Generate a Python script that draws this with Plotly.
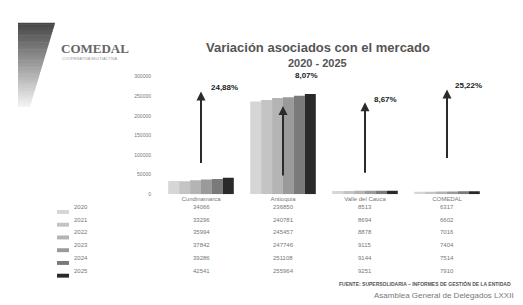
import plotly.graph_objects as go

W, H = 523, 305

categories = ["Cundinamarca", "Antioquia", "Valle del Cauca", "COMEDAL"]
years = ["2020", "2021", "2022", "2023", "2024", "2025"]
values = {
    "2020": [34066, 236850, 8513, 6317],
    "2021": [33296, 240781, 8694, 6602],
    "2022": [35994, 245457, 8878, 7016],
    "2023": [37842, 247746, 9115, 7404],
    "2024": [39286, 251108, 9144, 7514],
    "2025": [42541, 255964, 9251, 7910],
}
y_ticks = [0, 50000, 100000, 150000, 200000, 250000, 300000]
colors = ["#d6d6d6", "#c4c4c4", "#b4b4b4", "#9a9a9a", "#7a7a7a", "#2a2a2a"]

def px(x):
    return x / W

def py(y):
    return 1 - y / H

fig = go.Figure()
for yr, c in zip(years, colors):
    fig.add_trace(go.Bar(x=categories, y=values[yr], name=yr, marker_color=c,
                         marker_line_width=0))

annotations = []
shapes = []

# percentage arrows
arrow_top = [82, 97, 93, 80]
arrow_bot = [155, 168, 165, 150]
label_dx = [8, 10, 7, 6]
label_y = [78, 66, 90, 76]
for i, cat in enumerate(categories):
    pct = (values["2025"][i] / values["2020"][i] - 1) * 100
    txt = f"{pct:.2f}%".replace(".", ",")
    annotations.append(dict(x=cat, xref="x", y=py(arrow_top[i]), yref="paper",
                            ax=0, ay=arrow_bot[i] - arrow_top[i], text="",
                            showarrow=True, arrowhead=2, arrowsize=0.9,
                            arrowwidth=2, arrowcolor="#2b2b2b"))
    annotations.append(dict(x=cat, xref="x", y=py(label_y[i]), yref="paper",
                            xshift=label_dx[i], text=f"<b>{txt}</b>",
                            showarrow=False, xanchor="left", yanchor="middle",
                            font=dict(size=8, color="#222")))

# data table
row_y = [205, 218, 231, 244, 257, 270]
for r, (yr, c) in enumerate(zip(years, colors)):
    shapes.append(dict(type="rect", xref="paper", yref="paper",
                       x0=px(49), x1=px(61), y0=py(row_y[r] + 2), y1=py(row_y[r] - 2),
                       fillcolor=c, line_width=0))
    annotations.append(dict(x=px(64), xref="paper", y=py(row_y[r]), yref="paper",
                            text=yr, showarrow=False, xanchor="left",
                            font=dict(size=6, color="#777")))
    for i, cat in enumerate(categories):
        annotations.append(dict(x=cat, xref="x", y=py(row_y[r]), yref="paper",
                                text=str(values[yr][i]), showarrow=False,
                                font=dict(size=6, color="#777")))

# title
annotations.append(dict(x=px(310), y=py(28), xref="paper", yref="paper",
                        text="<b>Variación asociados con el mercado</b>",
                        showarrow=False, font=dict(size=13, color="#555",
                        family="Liberation Sans")))
annotations.append(dict(x=px(309), y=py(45), xref="paper", yref="paper",
                        text="<b>2020 - 2025</b>", showarrow=False,
                        font=dict(size=11, color="#555", family="Liberation Sans")))

# logo
n = 60
for k in range(n):
    t0, t1 = k / n, (k + 1) / n
    y0, y1 = 12 + t0 * 85, 12 + t1 * 85 + 0.6
    xr0, xr1 = 47 - t0 * 25, 47 - t1 * 25
    g = int(70 + 175 * t0)
    shapes.append(dict(type="path", xref="paper", yref="paper",
                       path=f"M {px(10)} {py(y0)} L {px(xr0)} {py(y0)} L {px(xr1)} {py(y1)} L {px(10)} {py(y1)} Z",
                       fillcolor=f"rgb({g},{g},{g})", line_width=0))
annotations.append(dict(x=px(51), y=py(29), xref="paper", yref="paper",
                        text="<b>COMEDAL</b>", showarrow=False, xanchor="left",
                        font=dict(size=13, color="#666", family="Liberation Serif")))
annotations.append(dict(x=px(52), y=py(44), xref="paper", yref="paper",
                        text="COOPERATIVA MULTIACTIVA", showarrow=False, xanchor="left",
                        font=dict(size=4, color="#999")))

# footer
annotations.append(dict(x=px(505), y=py(284), xref="paper", yref="paper",
                        text="<b>FUENTE: SUPERSOLIDARIA – INFORMES DE GESTIÓN DE LA ENTIDAD</b>",
                        showarrow=False, xanchor="right",
                        font=dict(size=5, color="#555")))
annotations.append(dict(x=px(508), y=py(297), xref="paper", yref="paper",
                        text="Asamblea General de Delegados LXXII",
                        showarrow=False, xanchor="right",
                        font=dict(size=8, color="#777")))

fig.update_layout(
    width=W, height=H,
    margin=dict(l=0, r=0, t=0, b=0),
    paper_bgcolor="white", plot_bgcolor="white",
    barmode="group", bargap=0.2, bargroupgap=0,
    showlegend=False,
    font=dict(family="Liberation Sans", color="#666"),
    xaxis=dict(domain=[px(152), px(480)], showgrid=False, showline=False,
               tickfont=dict(size=6, color="#777"), ticks="", ticklen=0),
    yaxis=dict(domain=[py(187), py(67)], range=[0, 300000], tickvals=y_ticks,
               tickformat="d",
               showgrid=False, zeroline=False, showline=False,
               tickfont=dict(size=5, color="#777"), ticklabelstandoff=8),
    annotations=annotations, shapes=shapes,
)

fig.write_html("out.html")
